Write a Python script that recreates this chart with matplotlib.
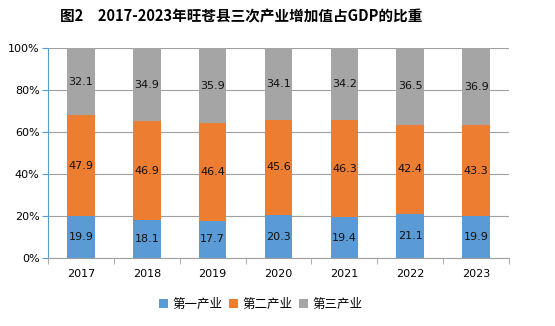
import matplotlib.pyplot as plt
import numpy as np
from matplotlib.ticker import PercentFormatter

plt.rcParams['font.family'] = ['Noto Sans CJK SC', 'DejaVu Sans']

years = ['2017', '2018', '2019', '2020', '2021', '2022', '2023']
primary = [19.9, 18.1, 17.7, 20.3, 19.4, 21.1, 19.9]
secondary = [47.9, 46.9, 46.4, 45.6, 46.3, 42.4, 43.3]
tertiary = [32.1, 34.9, 35.9, 34.1, 34.2, 36.5, 36.9]
names = ['第一产业', '第二产业', '第三产业']
colors = ['#5B9BD5', '#ED7D31', '#A5A5A5']

data = np.array([primary, secondary, tertiary])
share = data / data.sum(axis=0) * 100

fig = plt.figure(figsize=(5.55, 3.26), dpi=100)
ax = fig.add_axes([48/555, 1 - 258/326, (509-48)/555, (258-48)/326])

x = np.arange(len(years))
bottom = np.zeros(len(years))
for i in range(3):
    ax.bar(x, share[i], 0.42, bottom=bottom, color=colors[i], label=names[i], zorder=2)
    for j in range(len(years)):
        ax.text(x[j], bottom[j] + share[i][j] / 2, f'{data[i][j]:.1f}', ha='center', va='center',
                fontsize=8, color='#111111', family=['DejaVu Sans'])
    bottom += share[i]

ax.set_xlim(-0.5, len(years) - 0.5)
ax.set_ylim(0, 100)
ax.set_yticks(range(0, 101, 20))
ax.yaxis.set_major_formatter(PercentFormatter(decimals=0))
ax.set_xticks(x)
ax.set_xticklabels(years)
ax.set_xticks(np.arange(-0.5, len(years)), minor=True)
ax.tick_params(axis='x', which='major', length=0, pad=8, labelsize=8)
ax.tick_params(axis='x', which='minor', length=4, color='#A0A0A0')
ax.tick_params(axis='y', length=4, color='#5B9BD5', labelsize=8, pad=2)
for lab in ax.get_xticklabels() + ax.get_yticklabels():
    lab.set_family(['DejaVu Sans'])
ax.grid(axis='y', color='#A0A0A0', linewidth=0.8, zorder=0)
for s in ['top', 'right']:
    ax.spines[s].set_visible(False)
ax.spines['left'].set_color('#5B9BD5')
ax.spines['bottom'].set_color('#A0A0A0')

fig.text(0.435, 1 - 16/326, '图2　2017-2023年旺苍县三次产业增加值占GDP的比重', ha='center', va='center',
         fontsize=10.5, fontweight='bold')
fig.legend(loc='center', bbox_to_anchor=(0.47, 1 - 304/326), ncol=3, frameon=False,
           fontsize=9, handlelength=0.7, handleheight=0.7, handletextpad=0.4, columnspacing=0.5)

fig.savefig('out.png', dpi=100)
